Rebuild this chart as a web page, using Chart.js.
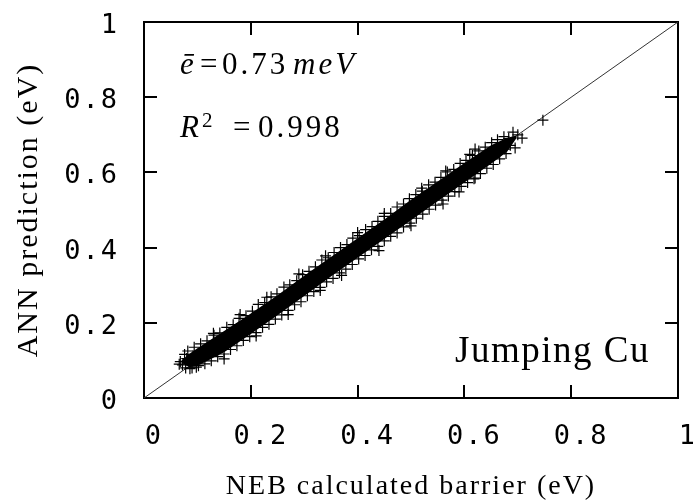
<!DOCTYPE html>
<html><head><meta charset="utf-8">
<script src="https://cdn.jsdelivr.net/npm/chart.js@4"></script>
<style>html,body{margin:0;padding:0;background:#fff}</style>
</head><body>
<canvas id="c" width="693" height="500"></canvas>
<script>
// ---- data ----
const tickValues = [0, 0.2, 0.4, 0.6, 0.8, 1];
const tickLabels = ['0', '0.2', '0.4', '0.6', '0.8', '1'];

// scattered "+" points (NEB barrier, ANN prediction), eV
const nebBarrier = [
  0.066,0.068,0.072,0.076,0.080,0.086,0.092,0.098,0.110,
  0.082,0.094,0.106,0.118,0.131,0.142,0.155,0.167,0.178,0.191,0.203,0.214,0.226,0.238,0.249,0.262,0.273,0.286,0.297,0.309,0.321,0.333,0.345,0.356,0.368,0.380,0.391,0.403,0.415,0.427,0.438,0.450,0.462,0.474,0.486,0.497,0.509,0.521,0.533,0.545,0.556,0.568,0.580,0.592,0.603,0.615,0.627,0.639,0.651,0.662,0.674,
  0.078,0.090,0.102,0.114,0.126,0.138,0.150,0.162,0.174,0.186,0.198,0.210,0.222,0.234,0.246,0.258,0.270,0.282,0.294,0.306,0.318,0.330,0.342,0.354,0.366,0.378,0.390,0.402,0.414,0.426,0.438,0.450,0.462,0.474,0.486,0.498,0.510,0.522,0.534,0.546,0.558,0.570,0.582,0.594,0.606,0.618,0.630,0.642,0.654,0.666,0.678,
  0.180,0.290,0.400,0.520,0.565,0.270,0.370,0.500,0.560,0.620,0.620,
  0.130,0.230,0.340,0.450,0.610,0.150,0.210,0.330,0.440,0.590,
  0.686,0.691,0.708,0.695,0.700,0.683,0.675,0.747
];
const annPrediction = [
  0.090,0.097,0.088,0.116,0.105,0.078,0.112,0.082,0.122,
  0.125,0.135,0.144,0.152,0.167,0.173,0.188,0.195,0.212,0.219,0.231,0.249,0.254,0.269,0.277,0.295,0.301,0.312,0.328,0.337,0.349,0.367,0.373,0.387,0.400,0.408,0.425,0.432,0.448,0.456,0.470,0.483,0.491,0.508,0.516,0.530,0.541,0.550,0.567,0.574,0.587,0.601,0.608,0.624,0.632,0.645,0.657,0.667,0.679,0.687,0.695,
  0.080,0.080,0.086,0.091,0.099,0.110,0.117,0.129,0.139,0.153,0.163,0.174,0.188,0.196,0.210,0.221,0.233,0.248,0.256,0.272,0.283,0.294,0.309,0.318,0.333,0.343,0.355,0.370,0.379,0.394,0.403,0.418,0.430,0.439,0.455,0.465,0.478,0.489,0.502,0.513,0.526,0.537,0.549,0.563,0.573,0.583,0.597,0.611,0.621,0.636,0.650,
  0.222,0.330,0.440,0.558,0.604,0.222,0.326,0.458,0.516,0.662,0.585,
  0.172,0.268,0.378,0.491,0.648,0.104,0.165,0.286,0.392,0.548,
  0.672,0.707,0.691,0.665,0.700,0.690,0.662,0.739
];

// dense core of the cloud (where the "+" marks merge into solid black)
const coreX  = [0.070, 0.085, 0.10, 0.15, 0.20, 0.25, 0.30, 0.35, 0.40, 0.45, 0.50, 0.55, 0.60, 0.65, 0.680, 0.698];
const coreHi = [0.100, 0.118, 0.132, 0.178, 0.225, 0.273, 0.325, 0.375, 0.425, 0.475, 0.527, 0.576, 0.625, 0.672, 0.692, 0.698];
const coreLo = [0.094, 0.082, 0.085, 0.122, 0.170, 0.220, 0.271, 0.323, 0.373, 0.423, 0.473, 0.523, 0.573, 0.623, 0.655, 0.692];

// y = x reference line
const diagX = [0, 1];
const diagY = [0, 1];

const xTitle = 'NEB calculated barrier (eV)';
const yTitle = 'ANN prediction (eV)';
const labelMeanErr = ['ē', '=', '0.73', 'meV'];
const labelR2 = ['R', '2', '=', '0.998'];
const labelSystem = 'Jumping Cu';

// ---- chart ----
const SERIF = '"Liberation Serif", "Times New Roman", serif';
const MONO = '"DejaVu Sans Mono", monospace';
const SPACING = '2px';

const spacingPlugin = {
  id: 'spacing',
  beforeLayout(chart) { chart.ctx.letterSpacing = SPACING; },
  beforeDraw(chart) { chart.ctx.letterSpacing = SPACING; }
};

const annoPlugin = {
  id: 'anno',
  afterDraw(chart) {
    const ctx = chart.ctx, a = chart.chartArea;
    ctx.save();
    ctx.fillStyle = '#000';
    ctx.textBaseline = 'alphabetic';
    ctx.textAlign = 'left';
    ctx.letterSpacing = '3px';
    const L = a.left, T = a.top;
    const y1 = T + 52;
    ctx.font = 'italic 31px ' + SERIF; ctx.fillText(labelMeanErr[0], L + 36, y1);
    ctx.font = '31px ' + SERIF; ctx.fillText(labelMeanErr[1], L + 56, y1);
    ctx.fillText(labelMeanErr[2], L + 78, y1);
    ctx.font = 'italic 31px ' + SERIF; ctx.fillText(labelMeanErr[3], L + 149, y1);
    const y2 = T + 115;
    ctx.font = 'italic 31px ' + SERIF; ctx.fillText(labelR2[0], L + 36, y2);
    ctx.font = '21px ' + SERIF; ctx.fillText(labelR2[1], L + 58, y2 - 10);
    ctx.font = '31px ' + SERIF; ctx.fillText(labelR2[2], L + 89, y2);
    ctx.fillText(labelR2[3], L + 114, y2);
    ctx.letterSpacing = '1.5px';
    ctx.font = '37px ' + SERIF;
    ctx.textAlign = 'right';
    ctx.fillText(labelSystem, a.right - 28, a.bottom - 36);
    ctx.restore();
  }
};

function pts(xs, ys) { return xs.map((x, i) => ({x: x, y: ys[i]})); }
function noPad(s) { s.paddingTop = 0; s.paddingBottom = 0; s.paddingLeft = 0; s.paddingRight = 0; }

const tickFont = {family: MONO, size: 27};
function axisCommon(extra) {
  return Object.assign({
    type: 'linear', min: 0, max: 1,
    afterBuildTicks(s) { s.ticks = tickValues.map(v => ({value: v})); },
    grid: {display: true, drawOnChartArea: false, drawTicks: true, tickLength: -13,
           color: '#000', tickColor: '#000', tickWidth: 2, lineWidth: 2},
    border: {display: true, color: '#000', width: 2}
  }, extra);
}

new Chart(document.getElementById('c'), {
  type: 'scatter',
  data: {
    datasets: [
      {type: 'scatter', data: pts(nebBarrier, annPrediction), pointStyle: 'cross', pointRadius: 5.5,
       borderColor: '#000', backgroundColor: '#000', borderWidth: 1.2, order: 1},
      {type: 'line', data: pts(coreX, coreLo), borderWidth: 0, pointRadius: 0, fill: false,
       borderColor: '#000', tension: 0, order: 2},
      {type: 'line', data: pts(coreX, coreHi), borderWidth: 0, pointRadius: 0, fill: '-1',
       backgroundColor: '#000', borderColor: '#000', tension: 0, order: 2},
      {type: 'line', data: pts(diagX, diagY), borderColor: '#333', borderWidth: 1, pointRadius: 0,
       fill: false, order: 3}
    ]
  },
  options: {
    responsive: false,
    animation: false,
    devicePixelRatio: 1,
    layout: {padding: 0},
    plugins: {legend: {display: false}, tooltip: {enabled: false}},
    scales: {
      x: axisCommon({
        position: 'bottom',
        ticks: {font: tickFont, color: '#000', padding: 36, labelOffset: 10, maxRotation: 0, autoSkip: false,
                callback: v => tickLabels[tickValues.indexOf(v)]},
        title: {display: true, text: xTitle, color: '#000',
                font: {family: SERIF, size: 28, lineHeight: 0.93}, padding: {top: 0, bottom: 0}},
        afterFit(s) { s.height = 102; noPad(s); }
      }),
      x2: axisCommon({
        position: 'top',
        ticks: {display: true, color: 'rgba(0,0,0,0)', font: {size: 1}},
        afterFit(s) { s.height = 22; noPad(s); }
      }),
      y: axisCommon({
        position: 'left',
        ticks: {font: tickFont, color: '#000', padding: 38, labelOffset: 4, autoSkip: false,
                callback: v => tickLabels[tickValues.indexOf(v)]},
        title: {display: true, text: yTitle, color: '#000',
                font: {family: SERIF, size: 30, lineHeight: 1}, padding: {top: 14, bottom: 0}},
        afterFit(s) { s.width = 144; noPad(s); }
      }),
      y2: axisCommon({
        position: 'right',
        ticks: {display: true, color: 'rgba(0,0,0,0)', font: {size: 1}},
        afterFit(s) { s.width = 15; noPad(s); }
      })
    }
  },
  plugins: [spacingPlugin, annoPlugin]
});
</script>
</body></html>
